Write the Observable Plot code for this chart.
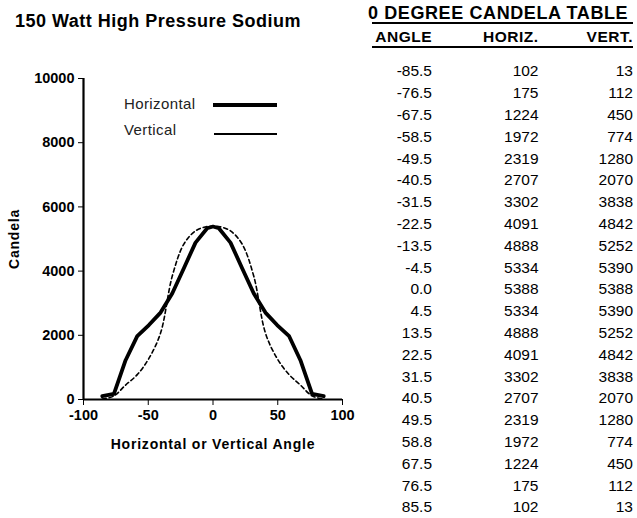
<!DOCTYPE html>
<html>
<head>
<meta charset="utf-8">
<script src="https://cdn.jsdelivr.net/npm/d3@7"></script>
<script src="https://cdn.jsdelivr.net/npm/@observablehq/plot@0.6"></script>
<style>
  body { margin: 0; background: #fff; }
  #root { position: relative; width: 637px; height: 518px; background: #fff; overflow: hidden;
          font-family: "Liberation Sans", Arial, Helvetica, sans-serif; color: #000; }
  #title { position: absolute; left: 15px; top: 11.5px; font-size: 18px; font-weight: bold; letter-spacing: 0.5px; line-height: 18px; white-space: nowrap; }
  #chart { position: absolute; left: 0; top: 0; }
  .leg { position: absolute; font-size: 15px; line-height: 15px; color: #222; letter-spacing: 0.4px; white-space: nowrap; }
  .legline { position: absolute; background: #000; }
  #table { position: absolute; left: 371px; top: 0; width: 262px; }
  #ttitle { position: absolute; left: -3px; top: 3.8px; font-size: 18px; font-weight: bold; line-height: 18px; letter-spacing: 0.6px; white-space: nowrap; }
  .rule { position: absolute; left: 1px; width: 261px; height: 2px; background: #000; }
  .row { position: absolute; left: 0; width: 262px; height: 20px; line-height: 20px; }
  .cell { position: absolute; top: 0; text-align: right; white-space: nowrap; }
  .hdr { font-weight: bold; font-size: 15.5px; letter-spacing: 0.5px; }
  .val { font-size: 15.5px; }
</style>
</head>
<body>
<div id="root">
  <div id="chart"></div>
  <div id="title">150 Watt High Pressure Sodium</div>
  <div id="legend"></div>
  <div id="table"></div>
</div>
<script>
// ---- data ----
const angles = [-85.5, -76.5, -67.5, -58.5, -49.5, -40.5, -31.5, -22.5, -13.5, -4.5, 0.0, 4.5, 13.5, 22.5, 31.5, 40.5, 49.5, 58.8, 67.5, 76.5, 85.5];
const horiz  = [102, 175, 1224, 1972, 2319, 2707, 3302, 4091, 4888, 5334, 5388, 5334, 4888, 4091, 3302, 2707, 2319, 1972, 1224, 175, 102];
const vert   = [13, 112, 450, 774, 1280, 2070, 3838, 4842, 5252, 5390, 5388, 5390, 5252, 4842, 3838, 2070, 1280, 774, 450, 112, 13];
const seriesNames = ["Horizontal", "Vertical"];
const tableTitle = "0 DEGREE CANDELA TABLE";
const tableHeaders = ["ANGLE", "HORIZ.", "VERT."];
const xDomain = [-100, 100];
const yDomain = [0, 10000];
const xTicks = [-100, -50, 0, 50, 100];
const yTicks = [0, 2000, 4000, 6000, 8000, 10000];

const rowsH = angles.map((a, i) => ({angle: a, value: horiz[i]}));
const rowsV = angles.map((a, i) => ({angle: a, value: vert[i]}));

// ---- chart ----
const chart = Plot.plot({
  width: 350,
  height: 460,
  marginLeft: 83,
  marginRight: 8,
  marginTop: 78,
  marginBottom: 61,
  style: { fontFamily: "'Liberation Sans', Arial, sans-serif", fontSize: "14.5px", fontWeight: "bold", color: "#000", background: "transparent", overflow: "visible" },
  x: { domain: xDomain },
  y: { domain: yDomain },
  marks: [
    Plot.axisX({ ticks: xTicks, tickSize: 6, tickPadding: 4, tickFormat: d => String(d), fontSize: 14.5,
                 label: "Horizontal or Vertical Angle", labelAnchor: "center", labelArrow: "none", labelOffset: 49 }),
    Plot.axisY({ ticks: yTicks, tickSize: 5, tickPadding: 4, tickFormat: d => String(d), fontSize: 14.5,
                 label: "Candela", labelAnchor: "center", labelArrow: "none", labelOffset: 74 }),
    Plot.ruleY([yDomain[0]], { stroke: "#000", strokeWidth: 2 }),
    Plot.ruleX([xDomain[0]], { stroke: "#000", strokeWidth: 2.2 }),
    Plot.line(rowsV, { x: "angle", y: "value", stroke: "#000", strokeWidth: 1.6, strokeDasharray: "4,3", curve: "catmull-rom" }),
    Plot.line(rowsH, { x: "angle", y: "value", stroke: "#000", strokeWidth: 3.8, strokeLinejoin: "round", curve: "linear" })
  ]
});
chart.querySelectorAll("[aria-label='x-axis label'] text, [aria-label='y-axis label'] text, [aria-label='x-axis label'], [aria-label='y-axis label']").forEach(t => {
  t.setAttribute("letter-spacing", "0.8px");
  t.setAttribute("font-size", "14");
});
document.getElementById("chart").appendChild(chart);

// ---- legend ----
const legend = document.getElementById("legend");
const legStyles = [ { top: 96, lineTop: 103.3, lineLeft: 213, h: 4 }, { top: 122, lineTop: 133.2, lineLeft: 214, h: 2.2 } ];
seriesNames.forEach((name, i) => {
  const s = legStyles[i];
  const t = document.createElement("div");
  t.className = "leg"; t.textContent = name;
  t.style.left = "124px"; t.style.top = s.top + "px";
  legend.appendChild(t);
  const l = document.createElement("div");
  l.className = "legline";
  l.style.left = s.lineLeft + "px"; l.style.top = s.lineTop + "px";
  l.style.width = (277 - s.lineLeft) + "px"; l.style.height = s.h + "px";
  legend.appendChild(l);
});

// ---- table ----
const table = document.getElementById("table");
const colRight = [61, 167.5, 262];   // right edges within table box
const colWidth = [61, 100, 90];
const tt = document.createElement("div");
tt.id = "ttitle"; tt.textContent = tableTitle; table.appendChild(tt);
const r1 = document.createElement("div"); r1.className = "rule"; r1.style.top = "22.3px"; table.appendChild(r1);

function makeRow(cells, top, cls) {
  const row = document.createElement("div");
  row.className = "row"; row.style.top = top + "px";
  cells.forEach((c, j) => {
    const d = document.createElement("div");
    d.className = "cell " + cls;
    d.textContent = c;
    d.style.left = (colRight[j] - colWidth[j]) + "px";
    d.style.width = colWidth[j] + "px";
    row.appendChild(d);
  });
  table.appendChild(row);
}
makeRow(tableHeaders, 27, "hdr");
const r2 = document.createElement("div"); r2.className = "rule"; r2.style.top = "45.7px"; table.appendChild(r2);
angles.forEach((a, i) => {
  makeRow([a.toFixed(1), String(horiz[i]), String(vert[i])], 61.3 + 21.8 * i, "val");
});
</script>
</body>
</html>
